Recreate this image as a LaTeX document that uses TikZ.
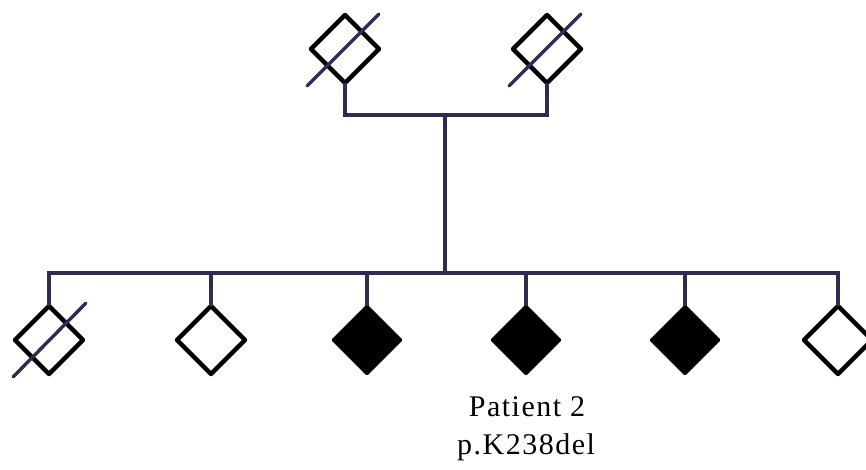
\documentclass[tikz,border=0pt]{standalone}
\usepackage{fontspec}
\usetikzlibrary{calc}
\setmainfont{Liberation Serif}
\newfontfamily\labfont[LetterSpace=5]{Liberation Serif}
\definecolor{navy}{HTML}{2E2D50}
\begin{document}
\begin{tikzpicture}[x=1pt,y=-1pt,
  conn/.style={draw=navy,line width=4pt},
  slash/.style={draw=navy,line width=3.4pt,line cap=round},
  lab/.style={font=\labfont\fontsize{30}{36}\selectfont,inner sep=0pt}]
\useasboundingbox (0,0) rectangle (866,469);
\def\hd{34}
% person coordinates
\coordinate (g1) at (345,49);
\coordinate (g2) at (547,49);
\foreach \n/\x in {c1/49,c2/211,c3/367,c4/526,c5/685,c6/838}{\coordinate (\n) at (\x,340);}
% diamonds
\foreach \n in {g1,g2,c1,c2,c6}{
  \draw[line width=4.4pt,line join=round] ($(\n)+(0,-\hd)$) -- ($(\n)+(\hd,0)$) -- ($(\n)+(0,\hd)$) -- ($(\n)+(-\hd,0)$) -- cycle;}
\foreach \n in {c3,c4,c5}{
  \fill[black,draw=black,line width=2.5pt,line join=round] ($(\n)+(0,-\hd)$) -- ($(\n)+(\hd,0)$) -- ($(\n)+(0,\hd)$) -- ($(\n)+(-\hd,0)$) -- cycle;}
% coordinates for tops/bottoms
\coordinate (g1b) at (345,83);
\coordinate (g2b) at (547,83);
\coordinate (mL) at (345,115);
\coordinate (mR) at (547,115);
\coordinate (mM) at (445,115);
\coordinate (sM) at (445,273);
\coordinate (sL) at (49,273);
\coordinate (sR) at (838,273);
\coordinate (topy) at (0,306);
% connectors
\draw[conn,line join=miter] (g1b) -- (mL) -- (mR) -- (g2b);
\draw[conn] (mM) -- (sM);
\draw[conn,line join=miter] (c1 |- topy) -- (sL) -- (sR) -- (c6 |- topy);
\foreach \n in {c2,c3,c4,c5}{\draw[conn] (\n |- sL) -- (\n |- topy);}
% deceased slashes
\draw[slash] ($(g1)+(-38,37)$) -- ($(g1)+(34,-35)$);
\draw[slash] ($(g2)+(-38,37)$) -- ($(g2)+(34,-35)$);
\draw[slash] ($(c1)+(-36,37)$) -- ($(c1)+(37,-37)$);
% labels
\node[lab] (t1) at (527,407) {Patient 2};
\node[lab] (t2) at (526,447) {p.K238del};
\end{tikzpicture}
\end{document}
